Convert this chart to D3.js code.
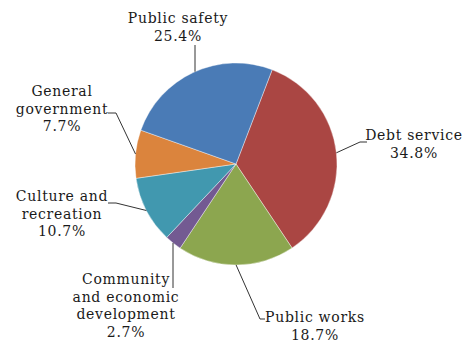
<html>
<meta charset="utf-8" />
<head>
<style>
body { margin: 0; background: #fff; }
svg text {
  font-family: "DejaVu Serif", serif;
  font-size: 14px;
  letter-spacing: 0.7px;
  fill: #1a1a1a;
  text-anchor: middle;
}
</style>
<script src="https://cdn.jsdelivr.net/npm/d3@7"></script>
</head>
<body>
<svg class="chart" width="464" height="342"></svg>
<script>
// data
var categories = ["Debt service", "Public works", "Community and economic development",
                  "Culture and recreation", "General government", "Public safety"];
var values = [34.8, 18.7, 2.7, 10.7, 7.7, 25.4];
var labelLines = [
  ["Debt service", "34.8%"],
  ["Public works", "18.7%"],
  ["Community", "and economic", "development", "2.7%"],
  ["Culture and", "recreation", "10.7%"],
  ["General", "government", "7.7%"],
  ["Public safety", "25.4%"]
];
var colors = ["#aa4643", "#8ca64f", "#735a92", "#4198af", "#db843d", "#4a7bb6"];

// layout of the labels (x centre, first baseline) and leader elbows
var labelPos = [[414, 140], [315, 322], [126, 284], [62, 201], [62, 96], [178, 23]];
var elbows = [
  [[367, 142], [360, 142]],
  [[265, 319], [260, 319]],
  [[173, 288]],
  [[108, 203], [116, 203]],
  [[108, 113], [116, 113]],
  [[195, 45]]
];

var cx = 236, cy = 164, radius = 101;
var startAngle = 21 * Math.PI / 180;

var svg = d3.select(".chart");
var g = svg.append("g").attr("transform", "translate(" + cx + "," + cy + ")");

var pie = d3.pie().sort(null).value(function(d){ return d; })
    .startAngle(startAngle).endAngle(startAngle + 2 * Math.PI);
var arcs = pie(values);
var arc = d3.arc().innerRadius(0).outerRadius(radius);

g.selectAll("path.slice")
    .data(arcs)
  .enter().append("path")
    .attr("class", "slice")
    .attr("d", arc)
    .attr("fill", function(d, i){ return colors[i]; })
    .attr("stroke", "#fff")
    .attr("stroke-width", 0.4);

// leader lines: from slice edge (mid angle) through elbows
arcs.forEach(function(d, i){
  var a = (d.startAngle + d.endAngle) / 2;
  var edge = [cx + Math.sin(a) * radius, cy - Math.cos(a) * radius];
  var pts = elbows[i].slice();
  var line = d3.line();
  // vertical leaders meet the rim straight below/above the elbow
  if (pts.length === 1) {
    edge = [pts[0][0], cy + (pts[0][1] < cy ? -1 : 1) * Math.sqrt(radius * radius - Math.pow(pts[0][0] - cx, 2))];
  }
  pts.push(edge);
  svg.append("path")
      .attr("d", line(pts))
      .attr("fill", "none")
      .attr("stroke", "#333")
      .attr("stroke-width", 1);
});

// labels
labelLines.forEach(function(lines, i){
  var t = svg.append("text")
      .attr("x", labelPos[i][0])
      .attr("y", labelPos[i][1]);
  lines.forEach(function(s, j){
    t.append("tspan")
        .attr("x", labelPos[i][0])
        .attr("dy", j === 0 ? 0 : 17.7)
        .text(s);
  });
});
</script>
</body>
</html>
